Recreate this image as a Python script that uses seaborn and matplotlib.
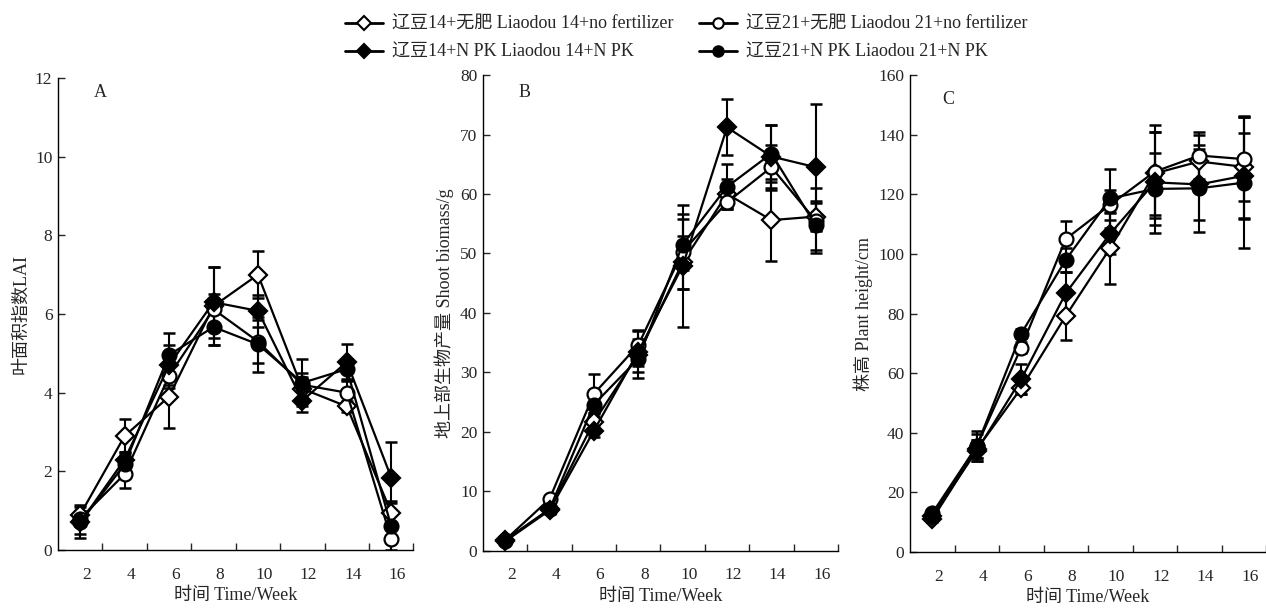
import matplotlib
matplotlib.use("Agg")
import matplotlib.pyplot as plt
import matplotlib.transforms as mtransforms
import seaborn as sns
import pandas as pd
import numpy as np
from matplotlib.lines import Line2D

sns.set_theme(style="ticks")
plt.rcParams['font.family'] = ['Liberation Serif', 'Noto Sans CJK SC']
plt.rcParams['axes.unicode_minus'] = False

weeks = [2, 4, 6, 8, 10, 12, 14, 16]
series = ["辽豆14+无肥 Liaodou 14+no fertilizer",
          "辽豆21+无肥 Liaodou 21+no fertilizer",
          "辽豆14+N PK Liaodou 14+N PK",
          "辽豆21+N PK Liaodou 21+N PK"]

# Panel A: LAI
lai_l14_nf = [0.9, 2.9, 3.9, 6.2, 7.0, 4.1, 3.65, 0.95]
lai_l21_nf = [0.8, 1.93, 4.43, 6.12, 5.3, 4.2, 4.0, 0.28]
lai_l14_npk = [0.7, 2.3, 4.7, 6.3, 6.08, 3.8, 4.78, 1.84]
lai_l21_npk = [0.7, 2.18, 4.96, 5.67, 5.23, 4.25, 4.6, 0.6]
lai_err_l14_nf = [0.25, 0.42, 0.8, 1.0, 0.6, 0.3, 0.15, 0.3]
lai_err_l21_nf = [0.2, 0.35, 0.3, 0.4, 0.55, 0.3, 0.3, 0.35]
lai_err_l14_npk = [0.3, 0.2, 0.5, 0.9, 0.4, 0.3, 0.45, 0.9]
lai_err_l21_npk = [0.4, 0.25, 0.55, 0.45, 0.7, 0.6, 0.25, 0.6]

# Panel B: shoot biomass
bio_l14_nf = [1.8, 7.0, 21.7, 33.0, 48.5, 60.0, 55.6, 56.2]
bio_l21_nf = [1.8, 8.7, 26.4, 34.6, 50.3, 58.6, 64.5, 55.5]
bio_l14_npk = [1.6, 6.8, 20.2, 33.5, 47.9, 71.2, 66.3, 64.5]
bio_l21_npk = [1.7, 7.0, 24.6, 32.3, 51.5, 61.2, 66.8, 54.7]
bio_err_l14_nf = [0.5, 0.6, 1.0, 2.0, 4.5, 2.5, 6.9, 2.2]
bio_err_l21_nf = [0.4, 0.5, 3.3, 2.5, 6.3, 1.0, 3.8, 5.5]
bio_err_l14_npk = [0.5, 0.6, 1.0, 3.5, 10.2, 4.7, 5.3, 10.7]
bio_err_l21_npk = [0.4, 0.6, 1.5, 3.3, 4.3, 3.8, 4.8, 4.2]

# Panel C: plant height
h_l14_nf = [11.0, 34.5, 55.0, 79.2, 102.0, 127.0, 131.0, 129.2]
h_l21_nf = [12.0, 35.5, 68.6, 105.0, 116.5, 127.6, 133.0, 131.8]
h_l14_npk = [12.0, 34.0, 58.0, 86.8, 106.8, 124.0, 123.3, 126.2]
h_l21_npk = [13.0, 35.5, 73.3, 98.0, 118.6, 121.8, 122.0, 123.9]
h_err_l14_nf = [1.0, 3.0, 2.0, 8.0, 12.0, 14.0, 9.0, 17.0]
h_err_l21_nf = [1.0, 5.0, 2.0, 6.0, 5.0, 15.5, 8.0, 14.0]
h_err_l14_npk = [1.0, 3.5, 5.0, 7.0, 7.0, 17.0, 12.0, 14.5]
h_err_l21_npk = [1.0, 4.0, 1.5, 4.0, 10.0, 12.0, 14.5, 22.0]

styles = [dict(marker='D', mfc='white', ms=9),
          dict(marker='o', mfc='white', ms=10),
          dict(marker='D', mfc='black', ms=9),
          dict(marker='o', mfc='black', ms=10)]

panels = [
    ("A", [lai_l14_nf, lai_l21_nf, lai_l14_npk, lai_l21_npk],
     [lai_err_l14_nf, lai_err_l21_nf, lai_err_l14_npk, lai_err_l21_npk],
     "叶面积指数LAI", (0, 12), np.arange(0, 13, 2),
     [0.0458, 0.1013, 0.2808, 0.7712], (0.118, 0.970)),
    ("B", [bio_l14_nf, bio_l21_nf, bio_l14_npk, bio_l21_npk],
     [bio_err_l14_nf, bio_err_l21_nf, bio_err_l14_npk, bio_err_l21_npk],
     "地上部生物产量 Shoot biomass/g", (0, 80), np.arange(0, 81, 10),
     [0.3815, 0.1000, 0.2804, 0.7774], (0.118, 0.964)),
    ("C", [h_l14_nf, h_l21_nf, h_l14_npk, h_l21_npk],
     [h_err_l14_nf, h_err_l21_nf, h_err_l14_npk, h_err_l21_npk],
     "株高 Plant height/cm", (0, 160), np.arange(0, 161, 20),
     [0.7188, 0.0980, 0.2812, 0.7794], (0.107, 0.948)),
]

fig = plt.figure(figsize=(12.66, 6.12), dpi=100)
fig.patch.set_facecolor('white')
shift = mtransforms.ScaledTranslation(6 / 100, 0, fig.dpi_scale_trans)

for label, vals, errs, ylabel, ylim, yticks, pos, lpos in panels:
    ax = fig.add_axes(pos)
    ax.set_facecolor('white')
    for name, v, e, st in zip(series, vals, errs, styles):
        ax.errorbar(weeks, v, yerr=e, fmt='none', ecolor='black',
                    elinewidth=1.5, capsize=4.5, capthick=1.8, zorder=2)
        df = pd.DataFrame({"week": weeks, "value": v})
        sns.lineplot(data=df, x="week", y="value", ax=ax, color='black',
                     linewidth=1.6, marker=st['marker'],
                     markerfacecolor=st['mfc'], markeredgecolor='black',
                     markeredgewidth=1.6, markersize=st['ms'], zorder=3)
    ax.set_xlim(1, 17)
    ax.set_ylim(*ylim)
    ax.set_xticks(weeks)
    ax.set_xticks(np.arange(3, 18, 2), minor=True)
    ax.set_yticks(yticks)
    ax.tick_params(axis='x', which='major', length=0, labelsize=12.5, pad=12)
    ax.tick_params(axis='x', which='minor', direction='in', length=5, width=1)
    ax.tick_params(axis='y', direction='in', length=5, width=1, labelsize=12.5, pad=4)
    for t in ax.get_xticklabels():
        t.set_transform(t.get_transform() + shift)
    for s in ['top', 'right']:
        ax.spines[s].set_visible(False)
    for s in ['left', 'bottom']:
        ax.spines[s].set_linewidth(1)
        ax.spines[s].set_color('black')
    ax.set_xlabel("时间 Time/Week", fontsize=13, labelpad=3)
    ax.set_ylabel(ylabel, fontsize=13, labelpad=4)
    ax.text(lpos[0], lpos[1], label, transform=ax.transAxes, fontsize=13,
            ha='center', va='center')

handles = [Line2D([0], [0], color='black', linewidth=2, marker=st['marker'],
                  markerfacecolor=st['mfc'], markeredgecolor='black',
                  markeredgewidth=1.5, markersize=st['ms'] * 0.75)
           for st in styles]
order = [0, 2, 1, 3]
fig.legend([handles[i] for i in order], [series[i] for i in order],
           loc='upper left', bbox_to_anchor=(345 / 1266, 1 - 16 / 612),
           ncol=2, frameon=False, fontsize=13, handlelength=2.1,
           columnspacing=1.4, handletextpad=0.5, labelspacing=0.6,
           borderpad=0, borderaxespad=0)

fig.savefig("out.png", dpi=100, facecolor='white')
